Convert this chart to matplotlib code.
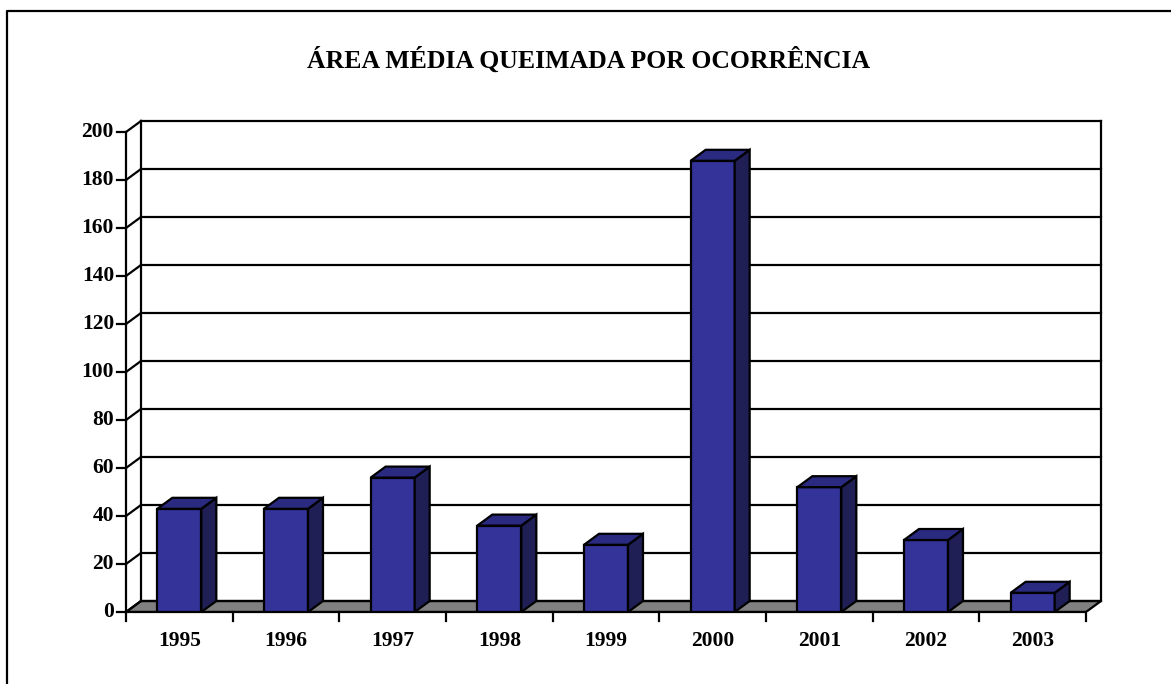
import matplotlib
matplotlib.use("Agg")
import matplotlib.pyplot as plt
from matplotlib.patches import Polygon
from matplotlib.lines import Line2D

years = ["1995", "1996", "1997", "1998", "1999", "2000", "2001", "2002", "2003"]
values = [43, 43, 56, 36, 28, 188, 52, 30, 8]
y_ticks = [0, 20, 40, 60, 80, 100, 120, 140, 160, 180, 200]
title = "ÁREA MÉDIA QUEIMADA POR OCORRÊNCIA"

W, H = 1171, 684
fig = plt.figure(figsize=(W / 100, H / 100), dpi=100)
fig.patch.set_facecolor("white")
# outer frame (only top and left visible in the reference)
fig.add_artist(Line2D([6.5 / W, 6.5 / W, 1.0], [0.0, 1 - 10.5 / H, 1 - 10.5 / H],
                      transform=fig.transFigure, color="black", linewidth=1.6))

# geometry in pixels
x0_px, y0_px = 126, 612          # front-left-bottom corner (image coords)
cat_px = 960 / len(years)
unit_px = 480 / 200
dx_px, dy_px = 15, 11
ddx = dx_px / cat_px
ddy = dy_px / unit_px
n = len(years)

ax = fig.add_axes([x0_px / W, (H - y0_px) / H, (960 + dx_px) / W, (480 + dy_px) / H])
ax.set_xlim(0, n + ddx)
ax.set_ylim(0, 200 + ddy)
ax.axis("off")

lw = 1.6
font = dict(family="Liberation Serif", fontweight="bold")

# floor
ax.add_patch(Polygon([(0, 0), (n, 0), (n + ddx, ddy), (ddx, ddy)], closed=True,
                     facecolor="#808080", edgecolor="black", linewidth=lw, zorder=1))
# back wall gridlines and side wall diagonals
for v in y_ticks:
    ax.plot([ddx, n + ddx], [v + ddy, v + ddy], color="black", lw=lw, zorder=1, clip_on=False)
    ax.plot([0, ddx], [v, v + ddy], color="black", lw=lw, zorder=1, clip_on=False)
    ax.plot([-9 / cat_px, 0], [v, v], color="black", lw=lw, clip_on=False, zorder=3)
    ax.text(-12 / cat_px, v, str(v), ha="right", va="center", fontsize=15.5, **font)
ax.plot([0, 0], [0, 200], color="black", lw=lw, clip_on=False, zorder=3)
ax.plot([ddx, ddx], [ddy, 200 + ddy], color="black", lw=lw, clip_on=False, zorder=1)
ax.plot([n + ddx, n + ddx], [ddy, 200 + ddy], color="black", lw=lw, clip_on=False, zorder=1)

# front axis and x ticks
ax.plot([0, n], [0, 0], color="black", lw=lw, clip_on=False, zorder=3)
for i in range(n + 1):
    ax.plot([i, i], [0, -9 / unit_px], color="black", lw=lw, clip_on=False, zorder=3)
for i, yr in enumerate(years):
    ax.text(i + 0.5, -29 / unit_px, yr, ha="center", va="center", fontsize=15.5, **font)

# bars
bw = 44 / cat_px
front_c, side_c, top_c = "#333399", "#1f1f55", "#2a2a80"
bars = ax.bar([i + 0.5 for i in range(n)], values, width=bw, color=front_c,
              edgecolor="black", linewidth=lw, zorder=4)
for b, v in zip(bars, values):
    xl = b.get_x()
    xr = xl + b.get_width()
    ax.add_patch(Polygon([(xr, 0), (xr + ddx, ddy), (xr + ddx, v + ddy), (xr, v)], closed=True,
                         facecolor=side_c, edgecolor="black", linewidth=lw, zorder=4))
    ax.add_patch(Polygon([(xl, v), (xr, v), (xr + ddx, v + ddy), (xl + ddx, v + ddy)], closed=True,
                         facecolor=top_c, edgecolor="black", linewidth=lw, zorder=4))

fig.text(589 / W, 1 - 60 / H, title, ha="center", va="center", fontsize=18.5, **font)

fig.savefig("out.png", dpi=100)
